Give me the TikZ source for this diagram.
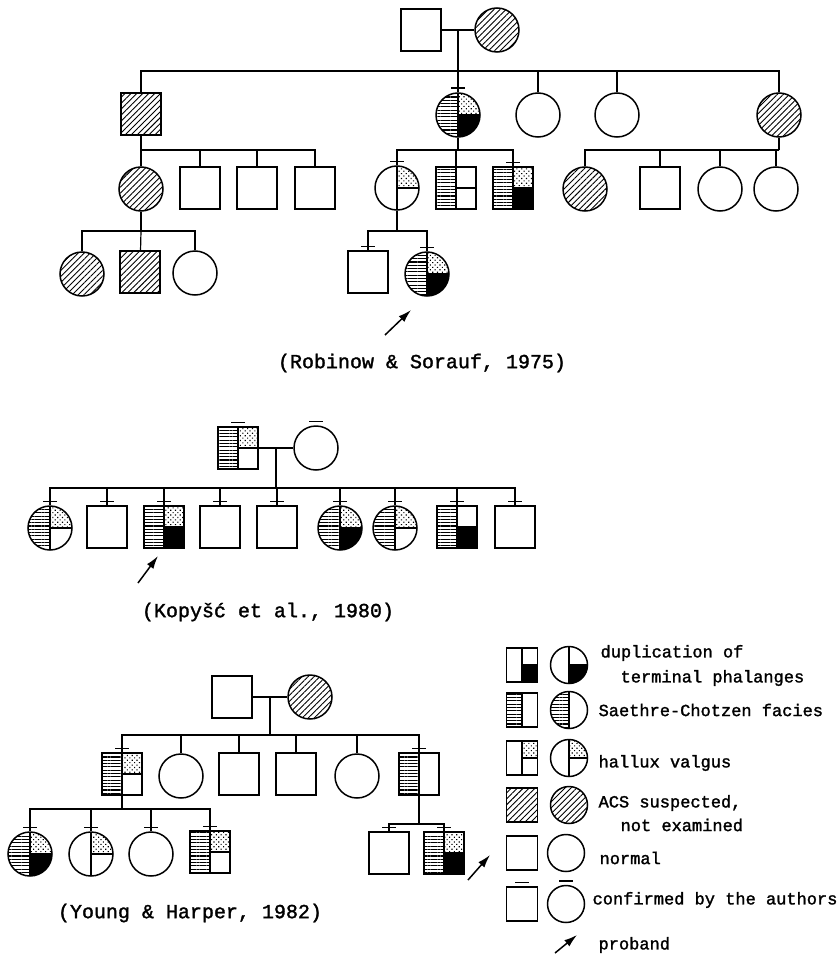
\documentclass[tikz,border=0pt]{standalone}
\usepackage{fontspec}
\setmonofont{Liberation Mono}[BoldFont=Liberation Mono, BoldFeatures={FakeBold=1.6}]
\usepackage{tikz}
\usetikzlibrary{positioning,arrows.meta,calc,patterns.meta}

% quadrant fills of a pedigree symbol
\newif\ifpedL \newif\ifpedD \newif\ifpedB \newif\ifpedQ \newif\ifpedH
\newcommand{\pedfill}{%
  \ifpedH \fill[pattern={Lines[angle=45,distance=4.2pt,line width=0.9pt]}]
    (path picture bounding box.south west) rectangle (path picture bounding box.north east);\fi
  \ifpedL \fill[pattern={Lines[angle=0,distance=3.3pt,line width=1.1pt]}]
    (path picture bounding box.south west) rectangle (path picture bounding box.north);\fi
  \ifpedD \fill[pattern={Dots[angle=45,distance=3.4pt,radius=0.8pt]}]
    (path picture bounding box.center) rectangle (path picture bounding box.north east);\fi
  \ifpedB \fill (path picture bounding box.center) rectangle (path picture bounding box.south east);\fi
  \ifpedL \draw (path picture bounding box.north) -- (path picture bounding box.south);
  \else\ifpedQ \draw (path picture bounding box.north) -- (path picture bounding box.south);\fi\fi
  \ifpedQ \draw (path picture bounding box.center) -- (path picture bounding box.east);\fi
}
\tikzset{
  lft/.code={\pedLtrue},
  dts/.code={\pedDtrue\pedQtrue},
  blk/.code={\pedBtrue\pedQtrue},
  qdiv/.code={\pedQtrue},
  hat/.code={\pedHtrue},
}

\begin{document}
\begin{tikzpicture}[x=1pt, y=-1pt, line width=1.2pt,
    male/.style={rectangle, draw, line width=1.5pt, inner sep=0pt, minimum width=40pt, minimum height=42pt, path picture={\pedfill}},
    female/.style={circle, draw, line width=1.5pt, inner sep=0pt, minimum size=44pt, path picture={\pedfill}},
    lmale/.style={male, minimum width=31pt, minimum height=34pt},
    lfemale/.style={female, minimum size=37pt},
    conf/.style={append after command={([xshift=-7pt,yshift=4pt]\tikzlastnode.north) edge[line width=1.5pt] ([xshift=7pt,yshift=4pt]\tikzlastnode.north)}},
    proband/.style={-{Latex[length=13pt,width=8pt]}, line width=1.5pt},
    cite/.style={font=\ttfamily\bfseries\fontsize{20}{24}\selectfont},
    legtext/.style={anchor=west, inner sep=0pt, font=\ttfamily\bfseries\fontsize{17}{20}\selectfont}]
    \useasboundingbox (0,0) rectangle (837,955);

    % Robinow & Sorauf
    \node[male] (r1m) at (421,30) {};
    \node[female, hat] (r1f) at (497,30) {};
    \coordinate (r1j) at ($(r1m.east)!0.5!(r1f.west)$);
    \coordinate (r1s) at (458,71);
    \node[male, hat] (r2a) at (141,114) {};
    \node[female, lft, dts, blk, conf] (r2b) at (458,115) {};
    \node[female] (r2c) at (538,115) {};
    \node[female] (r2d) at (617,115) {};
    \node[female, hat] (r2e) at (779,115) {};
    \coordinate (r2as) at (141,150);
    \node[female, hat] (r3a) at (141,189) {};
    \node[male] (r3b) at (200,188) {};
    \node[male] (r3c) at (257,188) {};
    \node[male] (r3d) at (315,188) {};
    \coordinate (r2bs) at (458,150);
    \node[female, dts, conf] (r3e) at (397,188) {};
    \node[male, lft, qdiv] (r3f) at (456,188) {};
    \node[male, lft, dts, blk, conf] (r3g) at (513,188) {};
    \coordinate (r2es) at (779,150);
    \node[female, hat] (r3h) at (585,189) {};
    \node[male] (r3i) at (660,188) {};
    \node[female] (r3j) at (720,189) {};
    \node[female] (r3k) at (776,189) {};
    \coordinate (r3as) at (141,231);
    \node[female, hat] (r4a) at (82,274) {};
    \node[male, hat] (r4b) at (140,272) {};
    \node[female] (r4c) at (195,273) {};
    \coordinate (r3es) at (397,231);
    \node[male, conf] (r4d) at (368,272) {};
    \node[female, lft, dts, blk, conf] (r4e) at (427,274) {};

    \draw (r1m) -- (r1f);
    \draw (r1j) -- (r1s);
    \draw (r1s) -| (r2a);
    \draw (r1s) -- (r2b);
    \draw (r1s) -| (r2c);
    \draw (r1s) -| (r2d);
    \draw (r1s) -| (r2e);
    \draw (r2a) -- (r2as);
    \draw (r2as) -- (r3a);
    \draw (r2as) -| (r3b);
    \draw (r2as) -| (r3c);
    \draw (r2as) -| (r3d);
    \draw (r2b) -- (r2bs);
    \draw (r2bs) -| (r3e);
    \draw (r2bs) -| (r3f);
    \draw (r2bs) -| (r3g);
    \draw (r2e) -- (r2es);
    \draw (r2es) -| (r3h);
    \draw (r2es) -| (r3i);
    \draw (r2es) -| (r3j);
    \draw (r2es) -| (r3k);
    \draw (r3a) -- (r3as);
    \draw (r3as) -| (r4a);
    \draw (r3as) -- (r4b);
    \draw (r3as) -| (r4c);
    \draw (r3e) -- (r3es);
    \draw (r3es) -| (r4d);
    \draw (r3es) -| (r4e);

    \coordinate (p1a) at (385,335);
    \coordinate (p1b) at (411,310);
    \draw[proband] (p1a) -- (p1b);
    \node[cite] (c1) at (422,363) {(Robinow \& Sorauf, 1975)};

    % Kopysc et al.
    \node[male, lft, dts, conf] (k1m) at (238,448) {};
    \node[female, conf] (k1f) at (316,448) {};
    \coordinate (k1j) at ($(k1m.east)!0.5!(k1f.west)$);
    \coordinate (k1s) at (276,488);
    \node[female, lft, dts, conf] (k2a) at (50,528) {};
    \node[male, conf] (k2b) at (107,527) {};
    \node[male, lft, dts, blk, conf] (k2c) at (164,527) {};
    \node[male, conf] (k2d) at (220,527) {};
    \node[male, conf] (k2e) at (277,527) {};
    \node[female, lft, dts, blk, conf] (k2f) at (340,528) {};
    \node[female, lft, dts, conf] (k2g) at (395,528) {};
    \node[male, lft, blk, conf] (k2h) at (457,527) {};
    \node[male, conf] (k2i) at (515,527) {};

    \draw (k1m) -- (k1f);
    \draw (k1j) -- (k1s);
    \draw (k1s) -| (k2a);
    \draw (k1s) -| (k2b);
    \draw (k1s) -| (k2c);
    \draw (k1s) -| (k2d);
    \draw (k1s) -| (k2e);
    \draw (k1s) -| (k2f);
    \draw (k1s) -| (k2g);
    \draw (k1s) -| (k2h);
    \draw (k1s) -| (k2i);

    \coordinate (p2a) at (138,583);
    \coordinate (p2b) at (158,556);
    \draw[proband] (p2a) -- (p2b);
    \node[cite] (c2) at (268,612) {(Kopyšć et al., 1980)};

    % Young & Harper
    \node[male] (y1m) at (232,697) {};
    \node[female, hat] (y1f) at (310,697) {};
    \coordinate (y1j) at ($(y1m.east)!0.5!(y1f.west)$);
    \coordinate (y1s) at (270,735);
    \node[male, lft, dts, conf] (y2a) at (122,774) {};
    \node[female] (y2b) at (181,776) {};
    \node[male] (y2c) at (239,774) {};
    \node[male] (y2d) at (296,774) {};
    \node[female] (y2e) at (357,776) {};
    \node[male, lft, conf] (y2f) at (419,774) {};
    \coordinate (y2as) at (122,809);
    \node[female, lft, dts, blk, conf] (y3a) at (30,854) {};
    \node[female, dts, conf] (y3b) at (91,854) {};
    \node[female, conf] (y3c) at (151,854) {};
    \node[male, lft, dts, conf] (y3d) at (210,852) {};
    \coordinate (y2fs) at (419,824);
    \node[male, conf] (y3e) at (389,853) {};
    \node[male, lft, dts, blk, conf] (y3f) at (444,853) {};

    \draw (y1m) -- (y1f);
    \draw (y1j) -- (y1s);
    \draw (y1s) -| (y2a);
    \draw (y1s) -| (y2b);
    \draw (y1s) -| (y2c);
    \draw (y1s) -| (y2d);
    \draw (y1s) -| (y2e);
    \draw (y1s) -| (y2f);
    \draw (y2a) -- (y2as);
    \draw (y2as) -| (y3a);
    \draw (y2as) -| (y3b);
    \draw (y2as) -| (y3c);
    \draw (y2as) -| (y3d);
    \draw (y2f) -- (y2fs);
    \draw (y2fs) -| (y3e);
    \draw (y2fs) -| (y3f);

    \coordinate (p3a) at (468,880);
    \coordinate (p3b) at (490,855);
    \draw[proband] (p3a) -- (p3b);
    \node[cite] (c3) at (190,913) {(Young \& Harper, 1982)};

    % legend
    \node[lmale, blk] (l1m) at (522,665) {};
    \node[lfemale, blk] (l1f) at (569,665) {};
    \node[legtext] (l1t) at (600,653) {duplication of};
    \node[legtext] (l1u) at (620,678) {terminal phalanges};
    \node[lmale, lft] (l2m) at (522,710) {};
    \node[lfemale, lft] (l2f) at (569,710) {};
    \node[legtext] (l2t) at (598,710) {Saethre-Chotzen facies};
    \node[lmale, dts] (l3m) at (522,758) {};
    \node[lfemale, dts] (l3f) at (569,758) {};
    \node[legtext] (l3t) at (598,763) {hallux valgus};
    \node[lmale, hat] (l4m) at (522,805) {};
    \node[lfemale, hat] (l4f) at (569,805) {};
    \node[legtext] (l4t) at (598,803) {ACS suspected,};
    \node[legtext] (l4u) at (620,825) {not examined};
    \node[lmale] (l5m) at (522,853) {};
    \node[lfemale] (l5f) at (566,853) {};
    \node[legtext] (l5t) at (599,858) {normal};
    \node[lmale, conf] (l6m) at (522,904) {};
    \node[lfemale, conf] (l6f) at (566,904) {};
    \node[legtext] (l6t) at (592,900) {confirmed by the authors};
    \coordinate (p4a) at (555,953);
    \coordinate (p4b) at (577,935);
    \draw[proband] (p4a) -- (p4b);
    \node[legtext] (l7t) at (598,945) {proband};
\end{tikzpicture}
\end{document}
